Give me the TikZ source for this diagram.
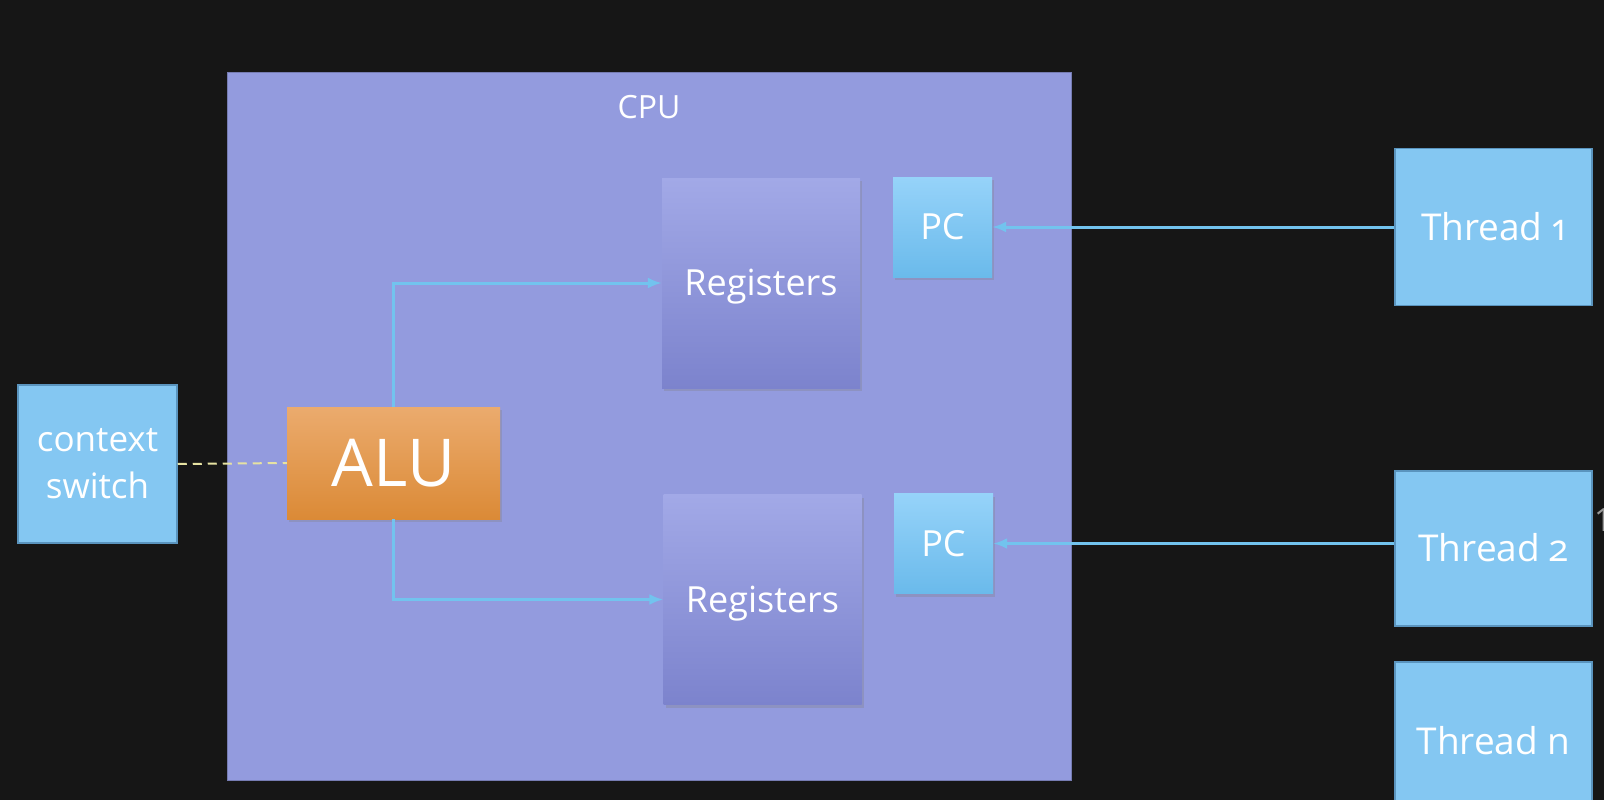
\documentclass[tikz,border=0pt]{standalone}
\usepackage{fontspec}
\setmainfont[Numbers=OldStyle]{Open Sans}
\usetikzlibrary{shadows,arrows.meta}
\definecolor{board}{HTML}{161616}
\definecolor{cpufill}{HTML}{939BDE}
\definecolor{regtop}{HTML}{A2A9E7}
\definecolor{regbot}{HTML}{7C83CD}
\definecolor{pctop}{HTML}{96D3F9}
\definecolor{pcbot}{HTML}{6ABAEB}
\definecolor{threadfill}{HTML}{84C7F2}
\definecolor{threadline}{HTML}{5A94BE}
\definecolor{alutop}{HTML}{EBAB6E}
\definecolor{alubot}{HTML}{DB8A36}
\definecolor{wire}{HTML}{72C3EE}
\definecolor{switchline}{HTML}{E6E2A2}
% put the middle of the capitals on the node centre
\newcommand{\capmid}[1]{\raisebox{-.36em}[0pt][0pt]{#1}}

\begin{document}
\begin{tikzpicture}[x=1pt,y=-1pt,
    box/.style={rectangle,inner sep=0pt,text=white,align=center,
      font=\fontsize{36}{47}\selectfont},
    softshadow/.style={drop shadow={opacity=.3,shadow xshift=2pt,shadow yshift=-3pt}},
    regbox/.style={box,minimum width=198pt,minimum height=210pt,
      top color=regtop,bottom color=regbot,softshadow},
    pcbox/.style={box,minimum width=99pt,minimum height=100pt,
      top color=pctop,bottom color=pcbot,softshadow},
    threadbox/.style={box,minimum width=197pt,minimum height=157pt,
      fill=threadfill,draw=threadline,line width=1.5pt,font=\fontsize{37}{47}\selectfont},
    wire/.style={draw=wire,line width=3pt,-{Latex[length=14pt,width=11pt]}}]
  \useasboundingbox (0,0) rectangle (1604,800);
  \fill[board] (0,0) rectangle (1604,800);

  \path (649,426) node[box,minimum width=844pt,minimum height=708pt,fill=cpufill,
    draw=cpufill!80!black,line width=.8pt] (cpu) {};
  \path (649,106.5) node[box,font=\fontsize{32}{38}\selectfont] (cpulabel) {\capmid{CPU}};

  \path (761,283) node[regbox] (reg1) {\capmid{Registers}};
  \path (762.5,599.5) node[regbox] (reg2) {\capmid{Registers}};
  \path (942.5,227) node[pcbox] (pc1) {\capmid{PC}};
  \path (943.5,543.5) node[pcbox] (pc2) {\capmid{PC}};

  \path (393.5,463) node[box,minimum width=213pt,minimum height=112pt,
    top color=alutop,bottom color=alubot,softshadow,
    font=\fontsize{66}{70}\selectfont] (alu) {\capmid{ALU}};
  \path (97.5,464) node[threadbox,minimum width=159pt,minimum height=158pt,
    font=\fontsize{35}{47}\selectfont] (cs) {context\\switch};

  \path (1493.5,227) node[threadbox] (t1) {\capmid{Thread 1}};
  \path (1493.5,548.5) node[threadbox,minimum height=155pt] (t2) {\capmid{Thread 2}};
  \path (1493.5,741) node[threadbox,minimum height=158pt] (tn) {\capmid{Thread n}};
  \path (1594,520) node[anchor=west,inner sep=0pt,text=black!40,
    font=\fontsize{32}{38}\selectfont] (stray) {\addfontfeature{Numbers=Lining}1};

  \draw[wire] (alu.north) |- (reg1.west);
  \draw[wire] (alu.south) |- (reg2.west);
  \draw[wire] (t1.west |- pc1.east) -- (pc1.east);
  \draw[wire] (t2.west |- pc2.east) -- (pc2.east);
  \draw[switchline,line width=2pt,dash pattern=on 9pt off 6pt] (cs.east) -- (alu.west);
\end{tikzpicture}
\end{document}
